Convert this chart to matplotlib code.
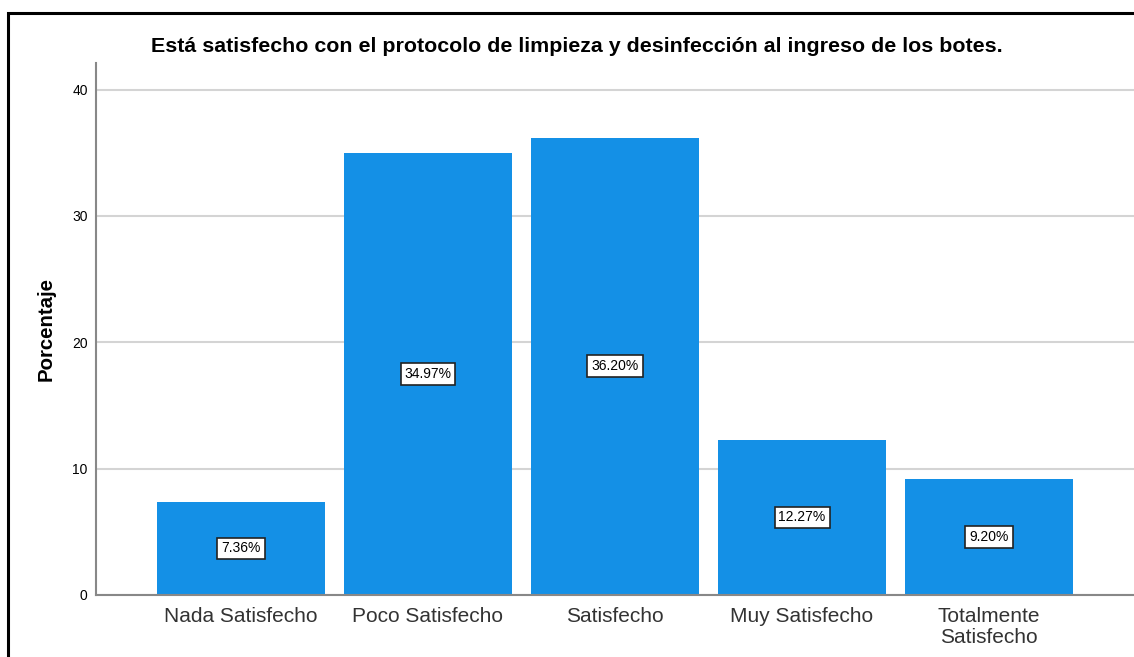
import matplotlib
matplotlib.use("Agg")
import matplotlib.pyplot as plt
from matplotlib.patches import Rectangle

categorias = ["Nada Satisfecho", "Poco Satisfecho", "Satisfecho", "Muy Satisfecho", "Totalmente\nSatisfecho"]
porcentajes = [7.36, 34.97, 36.20, 12.27, 9.20]
etiquetas = ["7.36%", "34.97%", "36.20%", "12.27%", "9.20%"]

plt.rcParams['font.family'] = ['Liberation Sans', 'DejaVu Sans']

fig = plt.figure(figsize=(11.34, 6.57), dpi=100)
ax = fig.add_axes([96 / 1134, 1 - 595 / 657, 1 - 96 / 1134, (595 - 63) / 657])

x = list(range(len(categorias)))
ax.bar(x, porcentajes, width=0.898, color='#1490e6', zorder=2)
for xi, v, t in zip(x, porcentajes, etiquetas):
    ax.text(xi, v / 2, t, ha='center', va='center', fontsize=10, zorder=3,
            bbox=dict(boxstyle='square,pad=0.28', fc='white', ec='#222222', lw=1.2))

ax.set_xlim(-0.775, 4.775)
ax.set_ylim(0, 42.1)
ax.set_yticks([0, 10, 20, 30, 40])
ax.yaxis.grid(True, color='#d4d4d4', lw=1.5, zorder=0)
ax.set_xticks(x)
ax.set_xticklabels(categorias, fontsize=15, color='#333333', linespacing=1.1)
ax.tick_params(axis='x', length=0, pad=9)
ax.tick_params(axis='y', length=0, pad=6, labelsize=10)
for s in ['top', 'right']:
    ax.spines[s].set_visible(False)
for s in ['left', 'bottom']:
    ax.spines[s].set_color('#888888')
    ax.spines[s].set_linewidth(1.5)

ax.set_ylabel('Porcentaje', fontsize=14.7, fontweight='bold', labelpad=12)
fig.text(577 / 1134, 1 - 47 / 657, 'Está satisfecho con el protocolo de limpieza y desinfección al ingreso de los botes.',
         ha='center', va='center', fontsize=15.4, fontweight='bold')

fig.patches.append(Rectangle((8 / 1134, -0.1), 1.2, 1 - 13 / 657 + 0.1, transform=fig.transFigure,
                             fill=False, ec='black', lw=2.2))

plt.savefig('out.png', dpi=100)
